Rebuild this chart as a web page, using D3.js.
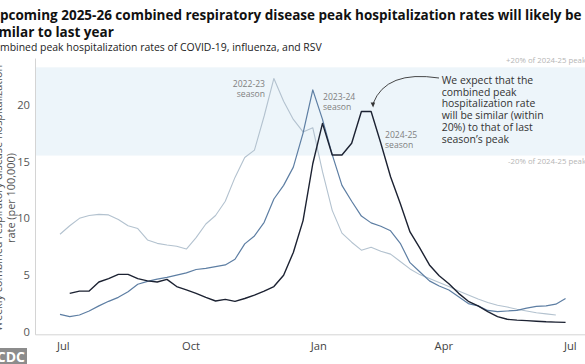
<!DOCTYPE html>
<html><head><meta charset="utf-8">
<script src="https://cdn.jsdelivr.net/npm/d3@7"></script>
<style>
html,body{margin:0;padding:0;background:#fff;overflow:hidden;}
svg{display:block;font-family:"Open Sans",sans-serif;}
</style></head>
<body>
<script>
// ---- data ----
const monthTicks = ["2024-07-01","2024-10-01","2025-01-01","2025-04-01","2025-07-01"];
const monthLabels = ["Jul","Oct","Jan","Apr","Jul"];
const yTicks = [0,5,10,15,20];
const peak2425 = 19.4;
const seasonNames = ["2022-23","2023-24","2024-25"];
const seasonStarts = ["2024-06-29","2024-06-29","2024-07-06"];
const s2223 = [8.6,9.35,10.0,10.25,10.35,10.3,9.9,9.35,9.1,8.1,7.8,7.65,7.55,7.3,8.3,9.5,10.25,11.5,13.6,15.35,16.0,19.0,22.3,20.3,18.7,17.6,17.97,14.1,10.7,8.7,7.9,7.2,7.45,7.1,6.85,6.2,5.55,5.05,4.7,4.35,4.0,3.6,3.25,2.9,2.6,2.35,2.2,2.0,1.85,1.7,1.6,1.5];
const s2324 = [1.55,1.35,1.5,1.85,2.3,2.7,3.05,3.55,4.2,4.45,4.65,4.8,5.0,5.2,5.5,5.6,5.75,5.9,6.4,7.75,8.45,9.65,11.7,12.9,14.5,17.5,21.3,18.7,15.6,12.9,11.5,10.2,9.6,9.3,8.9,7.8,6.1,5.3,4.5,4.05,3.7,3.1,2.5,2.3,1.9,1.8,1.85,1.9,2.1,2.25,2.3,2.45,2.95];
const s2425 = [3.4,3.6,3.6,4.4,4.7,5.07,5.07,4.7,4.5,4.4,4.63,4.0,3.7,3.4,3.05,2.73,2.87,2.7,2.95,3.25,3.6,4.0,5.0,7.0,9.8,14.8,18.35,15.57,15.57,16.6,19.4,19.4,16.6,13.66,11.3,8.8,7.4,5.9,4.95,4.25,3.4,2.7,2.3,1.8,1.35,1.12,1.05,1.0,0.95,0.9,0.87,0.85];
const seriesValues = [s2223, s2324, s2425];
const seriesColors = ["#b3c2cf","#5d7ea3","#1c2232"];
const seriesWidths = [1.1,1.2,1.4];
const titleLines = ["Upcoming 2025-26 combined respiratory disease peak hospitalization rates will likely be","similar to last year"];
const subtitle = "Combined peak hospitalization rates of COVID-19, influenza, and RSV";
const yTitle = ["Weekly combined respiratory disease hospitalization","rate (per 100,000)"];
const callout = ["We expect that the","combined peak","hospitalization rate","will be similar (within","20%) to that of last","season\u2019s peak"];

// ---- layout ----
const W = 585, H = 364;
const parse = d3.timeParse("%Y-%m-%d");
const svg = d3.select("body").append("svg").attr("width", W).attr("height", H);

// text measuring helper
const meas = svg.append("text").attr("x", -1000).attr("y", -1000);
function textW(str, size, weight) {
  meas.attr("font-size", size).attr("font-weight", weight || 400).text(str);
  return meas.node().getComputedTextLength();
}
function fitSize(str, target, weight) { return 10 * target / textW(str, 10, weight); }

const x = d3.scaleTime().domain([parse("2024-06-11"), parse("2025-07-12")]).range([35, 585]);
const y = d3.scaleLinear().domain([-0.2, 24.1]).range([334.3, 58]);

// band +/-20%
svg.append("rect")
  .attr("x", x.range()[0]).attr("width", W - x.range()[0])
  .attr("y", y(peak2425 * 1.2)).attr("height", y(peak2425 * 0.8) - y(peak2425 * 1.2))
  .attr("fill", "#edf5fa");
const bandFs = fitSize("+20% of 2024-25 peak", 80);
svg.append("text").attr("x", 586).attr("y", y(peak2425 * 1.2) - 4)
  .attr("text-anchor", "end").attr("font-size", bandFs).attr("fill", "#b5b5b5")
  .text("+20% of 2024-25 peak");
svg.append("text").attr("x", 586).attr("y", y(peak2425 * 0.8) + 8)
  .attr("text-anchor", "end").attr("font-size", bandFs).attr("fill", "#b5b5b5")
  .text("-20% of 2024-25 peak");

// axes
const tickFs = fitSize("Jul", 12.7);
const xAxis = d3.axisBottom(x).tickValues(monthTicks.map(parse)).tickFormat((d, i) => monthLabels[i]).tickSize(0).tickPadding(8);
const gx = svg.append("g").attr("transform", `translate(0,${y.range()[0]})`).call(xAxis);
gx.select(".domain").attr("stroke", "#d4d4d4");
gx.selectAll("text").attr("font-size", tickFs).attr("fill", "#444").attr("font-family", "Open Sans");

const yAxis = d3.axisLeft(y).tickValues(yTicks).tickSize(0).tickPadding(5);
const gy = svg.append("g").attr("transform", `translate(${x.range()[0]},0)`).call(yAxis);
gy.select(".domain").attr("stroke", "#d4d4d4");
gy.selectAll("text").attr("font-size", tickFs).attr("fill", "#555").attr("font-family", "Open Sans");

// y title (first line mostly outside the frame, as in the reference)
const ytFs = fitSize(yTitle[1], 90);
const yt = svg.append("text").attr("transform", `translate(0,${(y(0)+y(24.1))/2 + 3}) rotate(-90)`)
  .attr("text-anchor", "middle").attr("font-size", ytFs).attr("fill", "#555");
yt.append("tspan").attr("x", 0).attr("y", 2).text(yTitle[0]);
yt.append("tspan").attr("x", 0).attr("y", 14.5).text(yTitle[1]);

// lines
const line = d3.line().x(d => x(d.date)).y(d => y(d.v));
seriesValues.forEach((vals, k) => {
  const start = parse(seasonStarts[k]);
  const pts = vals.map((v, i) => ({date: d3.timeDay.offset(start, 7 * i), v}));
  svg.append("path").datum(pts).attr("d", line)
    .attr("fill", "none").attr("stroke", seriesColors[k]).attr("stroke-width", seriesWidths[k])
    .attr("stroke-linejoin", "round");
});

// season labels
const seasonFs = fitSize("2022-23", 32.3);
function seasonLabel(name, xp, yp, anchor) {
  const t = svg.append("text").attr("font-size", seasonFs).attr("fill", "#808080").attr("text-anchor", anchor);
  t.append("tspan").attr("x", xp).attr("y", yp).text(name);
  t.append("tspan").attr("x", xp).attr("y", yp + 10).text("season");
}
seasonLabel(seasonNames[0], 265, 87, "end");
seasonLabel(seasonNames[1], 323, 99.5, "start");
seasonLabel(seasonNames[2], 385, 137.5, "start");

// callout
const plateauDate = d3.timeDay.offset(parse(seasonStarts[2]), 7 * 31);
const tipX = x(plateauDate) + 2, tipY = y(peak2425) - 5;
svg.append("path")
  .attr("d", `M${439},${78} Q${386},${70} ${tipX},${tipY - 3}`)
  .attr("fill", "none").attr("stroke", "#333").attr("stroke-width", 0.9);
svg.append("path")
  .attr("d", `M${tipX - 2.5},${tipY - 4} L${tipX + 2},${tipY - 4} L${tipX},${tipY + 1} Z`)
  .attr("fill", "#333");
const calloutFs = fitSize(callout[3], 102);
const ct = svg.append("text").attr("font-size", calloutFs).attr("fill", "#333");
callout.forEach((s, i) => ct.append("tspan").attr("x", 441.7).attr("y", 84 + i * 11.7).text(s));

// title (left part cut off by the frame, as in the reference)
const vis1 = titleLines[0].slice(1, -1); // "pcoming ... likely b"
const titleFs = fitSize(vis1, 574, 700);
const tt = svg.append("text").attr("font-size", titleFs).attr("font-weight", 700).attr("fill", "#111");
tt.append("tspan").attr("x", -textW("U", titleFs, 700)).attr("y", 20).text(titleLines[0]);
tt.append("tspan").attr("x", -textW("si", titleFs, 700) - 1.5).attr("y", 37).text(titleLines[1]);
const subFs = fitSize(subtitle.slice(2), 322);
svg.append("text").attr("x", -textW("Co", subFs)).attr("y", 51).attr("font-size", subFs).attr("fill", "#222").text(subtitle);

// source logo
svg.append("rect").attr("x", -10).attr("y", 348).attr("width", 37).attr("height", 16).attr("fill", "#8c8c8c");
svg.append("text").attr("x", 25).attr("y", 361.5).attr("text-anchor", "end").attr("font-size", 14).attr("font-weight", 700).attr("fill", "#fff").text("CDC");
meas.remove();
</script>
</body></html>
